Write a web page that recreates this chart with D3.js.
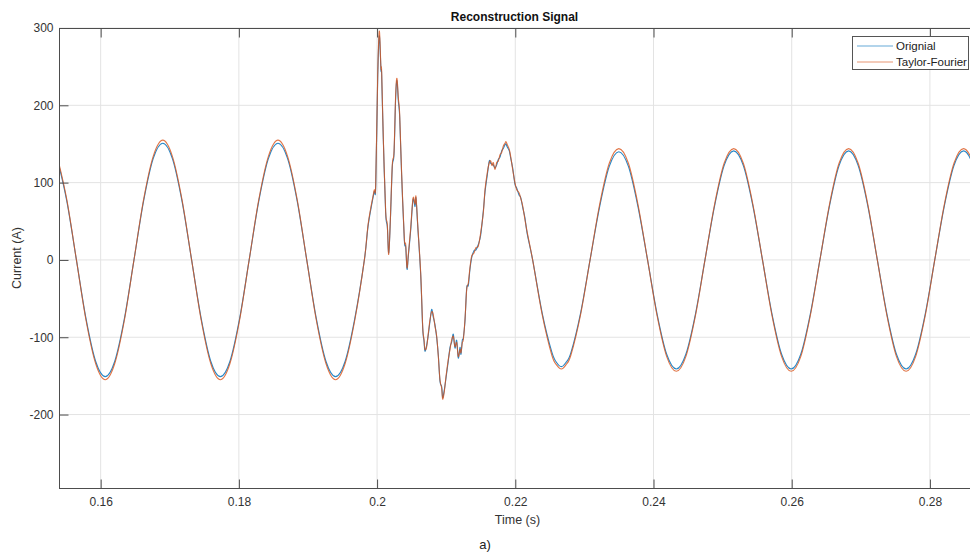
<!DOCTYPE html>
<html>
<head>
<meta charset="utf-8">
<script src="https://cdn.jsdelivr.net/npm/d3@7/dist/d3.min.js"></script>
<style>
  html, body { margin: 0; padding: 0; background: #fff; }
  svg { display: block; font-family: "Liberation Sans", Arial, sans-serif; }
</style>
</head>
<body>
<svg id="chart" width="970" height="552"></svg>
<script>
// ---- Data ----
const chartTitle = "Reconstruction Signal";
const xLabel = "Time (s)";
const yLabel = "Current (A)";
const caption = "a)";
const seriesNames = ["Orignial", "Taylor-Fourier"];

const xTicks = [0.16, 0.18, 0.20, 0.22, 0.24, 0.26, 0.28];
const xTickLabels = ["0.16", "0.18", "0.2", "0.22", "0.24", "0.26", "0.28"];
const yTicks = [-200, -100, 0, 100, 200, 300];
const yTickLabels = ["-200", "-100", "0", "100", "200", "300"];
const xDomain = [0.15397, 0.2858];
const yDomain = [-295, 300];

// time samples (s)
const times = [
  // pre-fault
  0.15371, 0.15510, 0.15649, 0.15788, 0.15927, 0.16066, 0.16204, 0.16343, 0.16482, 0.16621,
  0.16760, 0.16899, 0.17038, 0.17177, 0.17316, 0.17455, 0.17593, 0.17732, 0.17871, 0.18010,
  0.18149, 0.18288, 0.18427, 0.18566, 0.18705, 0.18844, 0.18982, 0.19121, 0.19260, 0.19399,
  0.19538, 0.19677, 0.19816,
  // fault transient
  0.19873, 0.19955, 0.19980, 0.20009, 0.20032, 0.20056, 0.20066, 0.20090, 0.20124, 0.20148,
  0.20168, 0.20191, 0.20220, 0.20245, 0.20269, 0.20288, 0.20307, 0.20327, 0.20356, 0.20394,
  0.20414, 0.20433, 0.20452, 0.20486, 0.20520, 0.20549, 0.20563, 0.20588, 0.20631, 0.20660,
  0.20679, 0.20693, 0.20718, 0.20741, 0.20766, 0.20790, 0.20813, 0.20838, 0.20863, 0.20886,
  0.20910, 0.20935, 0.20949, 0.20973, 0.20997, 0.21030, 0.21055, 0.21080, 0.21103, 0.21127,
  0.21152, 0.21175, 0.21200, 0.21214, 0.21233, 0.21248, 0.21272, 0.21297, 0.21320, 0.21344,
  0.21369, 0.21402, 0.21431, 0.21465, 0.21499, 0.21537, 0.21562, 0.21595, 0.21624, 0.21644,
  0.21663, 0.21682, 0.21706, 0.21731, 0.21754, 0.21779, 0.21803, 0.21826, 0.21851, 0.21865,
  0.21884, 0.21913, 0.21933, 0.21962, 0.21995, 0.22020, 0.22054, 0.22078, 0.22107, 0.22140,
  0.22174,
  // post-fault
  0.22251, 0.22390, 0.22528, 0.22600, 0.22667, 0.22730, 0.22805, 0.22944, 0.23082, 0.23221,
  0.23360, 0.23498, 0.23637, 0.23775, 0.23914, 0.24052, 0.24191, 0.24330, 0.24468, 0.24607,
  0.24745, 0.24884, 0.25022, 0.25161, 0.25300, 0.25438, 0.25577, 0.25715, 0.25854, 0.25992,
  0.26131, 0.26269, 0.26408, 0.26547, 0.26685, 0.26824, 0.26962, 0.27101, 0.27239, 0.27378,
  0.27516, 0.27655, 0.27793, 0.27932, 0.28070, 0.28209, 0.28348, 0.28486, 0.28625, 0.28763
];

// measured current, "Orignial" (A)
const original = [
  131, 76, 0, -76, -131, -151, -131, -76, 0, 76,
  131, 151, 131, 76, 0, -76, -131, -151, -131, -76,
  0, 76, 131, 151, 131, 76, 0, -76, -131, -151,
  -131, -76, 0,
  46, 87, 96, 236, 290, 246, 240, 156, 61, 43,
  9, 48, 120, 137, 210, 232, 206, 185, 108, 26,
  17, -12, 5, 38, 78, 69, 80, 44, -19, -88,
  -105, -118, -110, -97, -79, -64, -74, -84, -101, -123,
  -157, -164, -178, -168, -153, -131, -113, -106, -96, -114,
  -104, -127, -113, -122, -104, -101, -79, -36, -33, -12,
  3, 12, 13, 20, 32, 63, 88, 110, 128, 125,
  124, 123, 119, 123, 130, 133, 141, 144, 149, 150,
  146, 141, 132, 119, 98, 93, 84, 81, 68, 54,
  33,
  0, -69, -119, -133, -138, -133, -120, -69, 0, 69,
  121, 140, 121, 69, 0, -70, -122, -141, -122, -70,
  0, 70, 122, 141, 122, 70, 0, -70, -122, -141,
  -122, -70, 0, 70, 122, 141, 122, 70, 0, -70,
  -122, -141, -122, -70, 0, 70, 122, 141, 122, 70
];

// reconstructed current, "Taylor-Fourier" (A)
const taylorFourier = [
  134, 78, 0, -78, -134, -155, -134, -78, 0, 78,
  134, 155, 134, 78, 0, -78, -134, -155, -134, -78,
  0, 78, 134, 155, 134, 78, 0, -78, -134, -155,
  -134, -78, 0,
  48, 89, 98, 240, 296, 248, 244, 158, 63, 46,
  7, 50, 123, 140, 214, 235, 210, 188, 110, 28,
  20, -10, 7, 41, 80, 72, 82, 46, -17, -86,
  -103, -116, -112, -95, -77, -67, -71, -86, -99, -125,
  -155, -166, -180, -170, -151, -129, -116, -103, -99, -112,
  -107, -125, -116, -120, -107, -103, -77, -38, -30, -10,
  5, 9, 16, 18, 35, 61, 91, 113, 126, 128,
  122, 126, 117, 126, 128, 136, 139, 147, 151, 153,
  149, 143, 134, 117, 100, 91, 87, 80, 70, 52,
  35,
  0, -71, -123, -136, -141, -136, -123, -71, 0, 72,
  125, 144, 125, 72, 0, -72, -125, -144, -125, -72,
  0, 72, 125, 144, 125, 72, 0, -72, -125, -144,
  -125, -72, 0, 72, 125, 144, 125, 72, 0, -72,
  -125, -144, -125, -72, 0, 72, 125, 144, 125, 72
];

// ---- Drawing ----
const svg = d3.select("#chart");
const plot = { left: 59, top: 28, right: 970, bottom: 488 };

const x = d3.scaleLinear().domain(xDomain).range([plot.left, plot.right]);
const y = d3.scaleLinear().domain(yDomain).range([plot.bottom, plot.top]);

const axisColor = "#4d4d4d";
const textColor = "#333333";

// grid
const grid = svg.append("g");
grid.selectAll("line.gx").data(xTicks).join("line")
  .attr("x1", d => x(d)).attr("x2", d => x(d))
  .attr("y1", plot.top).attr("y2", plot.bottom)
  .attr("stroke", "#e3e3e3").attr("stroke-width", 1);
grid.selectAll("line.gy").data(yTicks).join("line")
  .attr("x1", plot.left).attr("x2", plot.right)
  .attr("y1", d => y(d)).attr("y2", d => y(d))
  .attr("stroke", "#e3e3e3").attr("stroke-width", 1);

// clip
svg.append("clipPath").attr("id", "clip")
  .append("rect").attr("x", plot.left).attr("y", plot.top)
  .attr("width", plot.right - plot.left).attr("height", plot.bottom - plot.top);

const rows = times.map((t, i) => ({ t, o: original[i], r: taylorFourier[i] }));

const curve = d3.curveCardinal.tension(0);
const lineO = d3.line().x(d => x(d.t)).y(d => y(d.o)).curve(curve);
const lineR = d3.line().x(d => x(d.t)).y(d => y(d.r)).curve(curve);

const blue = "#0072BD", orange = "#D95319";
const lines = svg.append("g").attr("clip-path", "url(#clip)");
lines.append("path").datum(rows).attr("d", lineO)
  .attr("fill", "none").attr("stroke", blue).attr("stroke-width", 1.1).attr("opacity", 0.85);
lines.append("path").datum(rows).attr("d", lineR)
  .attr("fill", "none").attr("stroke", orange).attr("stroke-width", 1.1).attr("opacity", 0.8);

// axes box (left, top, bottom)
const box = svg.append("g").attr("stroke", axisColor).attr("stroke-width", 1);
box.append("line").attr("x1", plot.left + 0.5).attr("x2", plot.left + 0.5)
  .attr("y1", plot.top).attr("y2", plot.bottom);
box.append("line").attr("x1", plot.left).attr("x2", plot.right)
  .attr("y1", plot.top + 0.5).attr("y2", plot.top + 0.5);
box.append("line").attr("x1", plot.left).attr("x2", plot.right)
  .attr("y1", plot.bottom + 0.5).attr("y2", plot.bottom + 0.5);

// axes via d3 (ticks inward)
const xAxisB = d3.axisBottom(x).tickValues(xTicks).tickSize(-9)
  .tickFormat((d, i) => xTickLabels[i]).tickPadding(9);
const gxb = svg.append("g").attr("transform", `translate(0,${plot.bottom + 0.5})`).call(xAxisB);
const xAxisT = d3.axisTop(x).tickValues(xTicks).tickSize(-9).tickFormat("");
const gxt = svg.append("g").attr("transform", `translate(0,${plot.top + 0.5})`).call(xAxisT);
const yAxisL = d3.axisLeft(y).tickValues(yTicks).tickSize(-9)
  .tickFormat((d, i) => yTickLabels[i]).tickPadding(6);
const gyl = svg.append("g").attr("transform", `translate(${plot.left + 0.5},0)`).call(yAxisL);

[gxb, gxt, gyl].forEach(g => {
  g.select(".domain").remove();
  g.selectAll(".tick line").attr("stroke", axisColor);
  g.selectAll(".tick text").attr("fill", textColor).attr("font-size", 12)
    .attr("font-family", "Liberation Sans, Arial, sans-serif");
});

// title and labels
svg.append("text").attr("x", (plot.left + plot.right) / 2).attr("y", 21)
  .attr("text-anchor", "middle").attr("font-size", 12).attr("font-weight", "bold")
  .attr("fill", "#111").text(chartTitle);
svg.append("text").attr("x", (plot.left + plot.right) / 2 + 3).attr("y", 524)
  .attr("text-anchor", "middle").attr("font-size", 12.5).attr("fill", textColor).text(xLabel);
svg.append("text").attr("transform", `translate(21,${(plot.top + plot.bottom) / 2}) rotate(-90)`)
  .attr("text-anchor", "middle").attr("font-size", 12.5).attr("fill", textColor).text(yLabel);
svg.append("text").attr("x", 485).attr("y", 549)
  .attr("text-anchor", "middle").attr("font-size", 13).attr("fill", "#222").text(caption);

// legend
const leg = svg.append("g");
leg.append("rect").attr("x", 852.5).attr("y", 36.5).attr("width", 116).attr("height", 33)
  .attr("fill", "#fff").attr("stroke", "#555").attr("stroke-width", 1);
const legColors = [blue, orange];
seriesNames.forEach((name, i) => {
  const yy = 46 + i * 16;
  leg.append("line").attr("x1", 857).attr("x2", 893).attr("y1", yy).attr("y2", yy)
    .attr("stroke", legColors[i]).attr("stroke-width", 1).attr("opacity", 0.6);
  leg.append("text").attr("x", 896).attr("y", yy + 4).attr("font-size", 11.5)
    .attr("fill", "#222").text(name);
});
</script>
</body>
</html>
